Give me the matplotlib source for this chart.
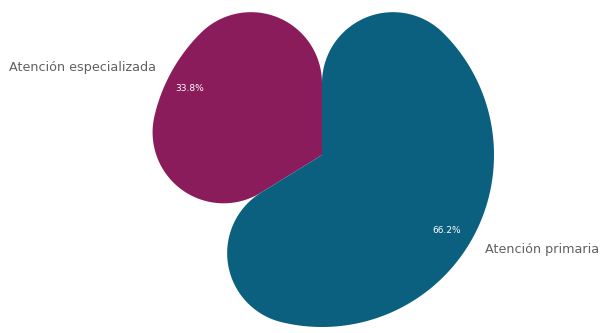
import numpy as np
import matplotlib.pyplot as plt
from matplotlib.patches import PathPatch
from matplotlib.path import Path

labels = ["Atención especializada", "Atención primaria"]
values = [33.8, 66.2]
colors = ["#8b1c5b", "#0b6080"]

plt.rcParams["font.family"] = ["DejaVu Sans"]


def rounded_wedge(t1, t2, R, r, n=80):
    """wedge from angle t1 to t2 (deg, ccw) with rounded outer corners"""
    a1, a2 = np.radians(t1), np.radians(t2)
    d = np.arcsin(r / (R - r))
    pts = [(0.0, 0.0)]
    # corner at a1: fillet center at angle a1 + d
    c1 = (R - r) * np.array([np.cos(a1 + d), np.sin(a1 + d)])
    for t in np.linspace(a1 - np.pi / 2, a1 + d, n):
        pts.append(tuple(c1 + r * np.array([np.cos(t), np.sin(t)])))
    # outer arc
    for t in np.linspace(a1 + d, a2 - d, n * 3):
        pts.append((R * np.cos(t), R * np.sin(t)))
    # corner at a2
    c2 = (R - r) * np.array([np.cos(a2 - d), np.sin(a2 - d)])
    for t in np.linspace(a2 - d, a2 + np.pi / 2, n):
        pts.append(tuple(c2 + r * np.array([np.cos(t), np.sin(t)])))
    pts.append((0.0, 0.0))
    codes = [Path.MOVETO] + [Path.LINETO] * (len(pts) - 2) + [Path.CLOSEPOLY]
    return Path(pts, codes)


fig = plt.figure(figsize=(6.03, 3.33), dpi=100)
ax = fig.add_axes([0, 0, 1, 1])
ax.set_xlim(-322, 603 - 322)
ax.set_ylim(155 - 333, 155)
ax.set_aspect("equal")
ax.axis("off")

R = 172
corner = 71
total = sum(values)
# specialised goes ccw from 12 o'clock, primary takes the rest
span = 360 * values[0] / total
angles = [(90, 90 + span), (90 + span - 360, 90)]

for (t1, t2), c in zip(angles, colors):
    ax.add_patch(PathPatch(rounded_wedge(t1, t2, R, corner), facecolor=c,
                           edgecolor="none"))

# percentage labels inside
pct_pos = [(-132, 67), (125, -75)]
for v, (x, y) in zip(values, pct_pos):
    ax.text(x, y, f"{v:.1f}%", color="white", fontsize=6.5,
            ha="center", va="center")

# category labels outside
ax.text(-313, 88, labels[0], color="#606060", fontsize=9.2,
        ha="left", va="center")
ax.text(163, -95, labels[1], color="#606060", fontsize=9.2,
        ha="left", va="center")

fig.savefig("out.png", dpi=100)
